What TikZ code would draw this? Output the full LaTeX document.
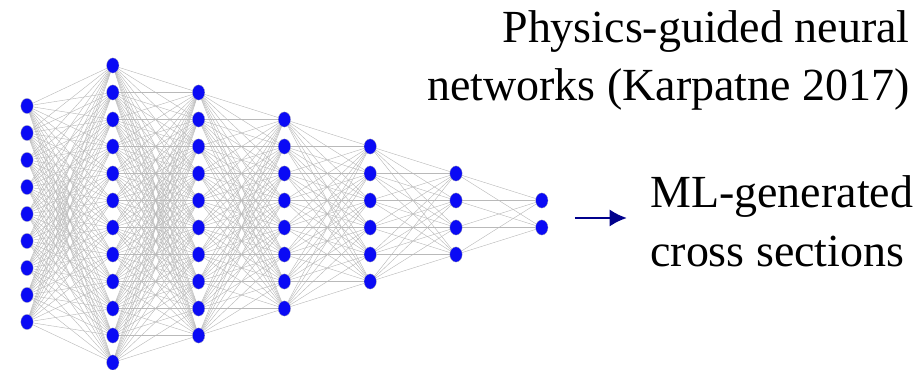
\documentclass[tikz,border=0pt]{standalone}
\usepackage{fontspec}
\setmainfont{Liberation Serif}
\usepackage{xcolor}
\usepackage{tikz}
\usetikzlibrary{shapes.geometric,arrows.meta,backgrounds,positioning}

\definecolor{neuronblue}{RGB}{10,10,245}
\definecolor{arrownavy}{RGB}{0,0,140}

\tikzset{
  neuron/.style={ellipse, fill=neuronblue, draw=gray!60, line width=0.2pt,
    minimum width=0.31cm, minimum height=0.38cm, inner sep=0pt},
  synapse/.style={gray!55, line width=0.3pt},
  caption/.style={font=\fontsize{32.7}{41.5}\selectfont, inner sep=0pt}
}

\begin{document}
\begin{tikzpicture}[>={Latex[length=0.43cm,width=0.43cm]}]

  \useasboundingbox (0,0) rectangle (23,9.25);

  % neurons, layer by layer
  \foreach \n [count=\l] in {9,12,10,8,6,4,2}
    \foreach \j in {1,...,\n}
      \node[neuron] (n-\l-\j) at ({0.675+2.145*(\l-1)},{3.9+0.675*((\n+1)/2-\j)}) {};

  % full connections between neighbouring layers
  \begin{scope}[on background layer]
    \foreach \a/\b [count=\l] in {9/12,12/10,10/8,8/6,6/4,4/2} {
      \pgfmathtruncatemacro\m{\l+1}
      \foreach \i in {1,...,\a}
        \foreach \k in {1,...,\b}
          \draw[synapse] (n-\l-\i) -- (n-\m-\k);
    }
  \end{scope}

  % texts
  \node[caption, anchor=north east, align=right] (title) at (22.75,9.0)
    {Physics-guided neural\\networks (Karpatne 2017)};
  \node[caption, anchor=west, align=left] (output) at (16.25,3.72)
    {ML-generated\\cross sections};

  % output arrow
  \coordinate (start) at (14.37,3.8);
  \draw[->, arrownavy, line width=1.5pt, shorten >=0.58cm] (start) -- (start -| output.west);

\end{tikzpicture}
\end{document}
